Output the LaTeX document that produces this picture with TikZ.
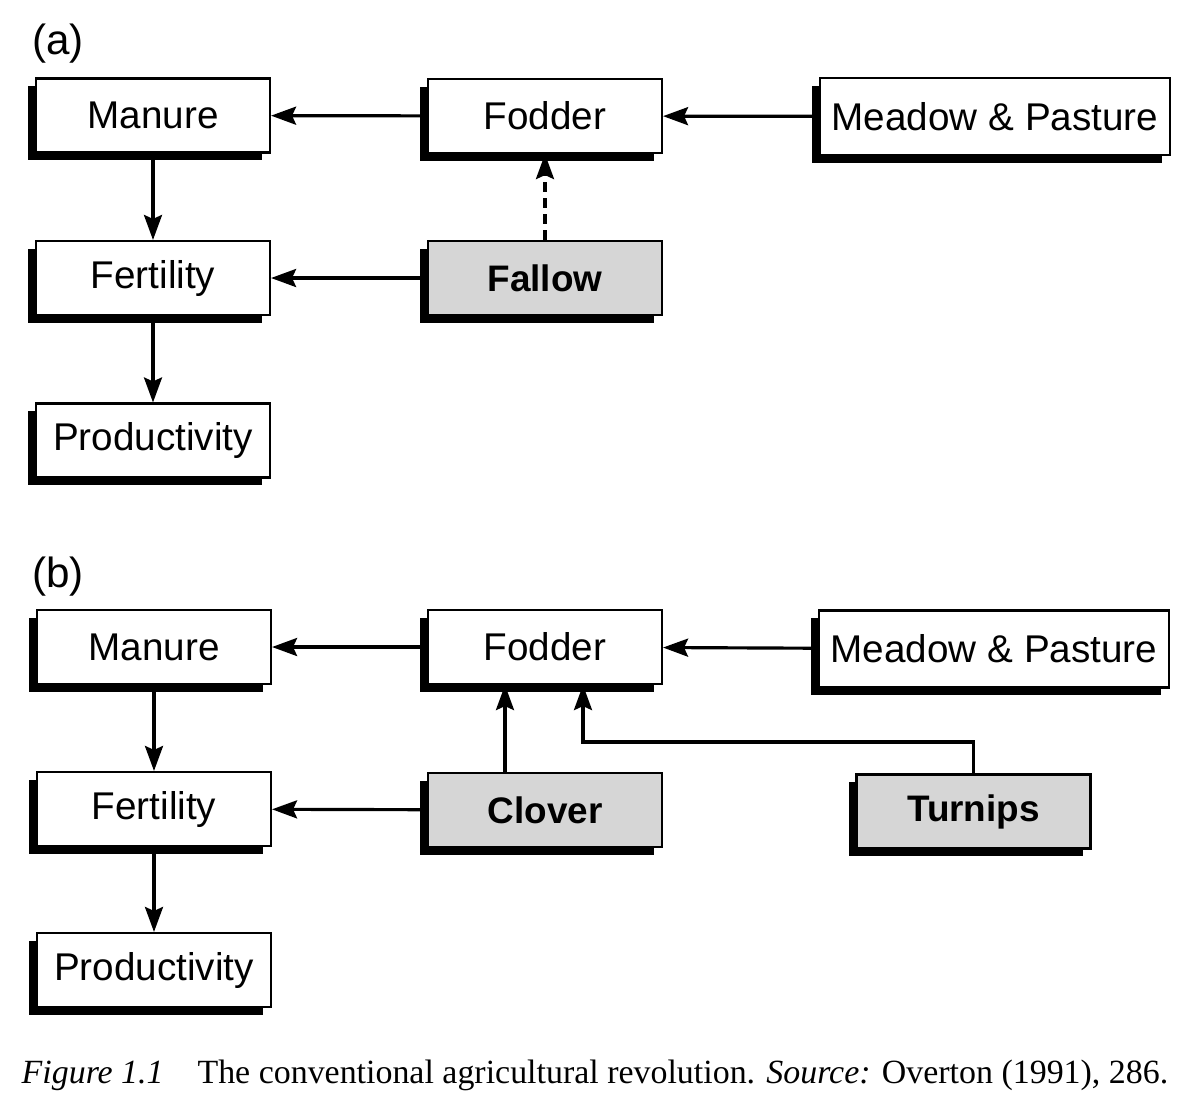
\documentclass[tikz,border=0pt]{standalone}
\usepackage{fontspec}
\setmainfont{Liberation Serif}
\newfontfamily\boxfont{Liberation Sans}
\usepackage{tikz}
\usetikzlibrary{shadows,arrows.meta}

\begin{document}
\begin{tikzpicture}[
  box/.style = {draw, line width=0.6pt, fill=white, minimum width=2.34cm, minimum height=0.74cm,
    inner sep=0pt, font=\boxfont\fontsize{11}{13}\selectfont,
    drop shadow={shadow xshift=-0.08cm, shadow yshift=-0.075cm, fill=black, opacity=1}},
  wide/.style = {box, minimum width=3.5cm, minimum height=0.77cm},
  crop/.style = {box, fill=black!16, font=\boxfont\bfseries\fontsize{10.5}{13}\selectfont},
  arr/.style = {line width=0.9pt, -{Stealth[length=0.25cm, width=0.18cm, inset=0.04cm]}},
  tag/.style = {font=\boxfont\fontsize{12}{14}\selectfont}
]
\useasboundingbox (0,0) rectangle (12,-11.1);

\node[tag] (la) at (0.58,-0.44) {(a)};
\node[box] (manA) at (1.53,-1.155) {Manure};
\node[box] (fodA) at (5.45,-1.16) {Fodder};
\node[wide] (meaA) at (9.95,-1.165) {Meadow \& Pasture};
\node[box] (ferA) at (1.53,-2.78) {Fertility};
\node[crop] (falA) at (5.45,-2.78) {Fallow};
\node[box] (proA) at (1.53,-4.405) {Productivity};

\draw[arr] (fodA) -- (manA);
\draw[arr] (meaA) -- (fodA);
\draw[arr] (manA) -- (ferA);
\draw[arr] (falA) -- (ferA);
\draw[arr] (ferA) -- (proA);
\draw[arr, dash pattern=on 0.1cm off 0.06cm] (falA) -- (fodA);

\node[tag] (lb) at (0.58,-5.77) {(b)};
\node[box] (manB) at (1.54,-6.47) {Manure};
\node[box] (fodB) at (5.45,-6.47) {Fodder};
\node[wide] (meaB) at (9.94,-6.49) {Meadow \& Pasture};
\node[box] (ferB) at (1.54,-8.09) {Fertility};
\node[crop] (cloB) at (5.45,-8.1) {Clover};
\node[crop] (turB) at (9.735,-8.115) {Turnips};
\node[box] (proB) at (1.54,-9.70) {Productivity};
\coordinate (tk) at (5.83,-7.42);

\draw[arr] (fodB) -- (manB);
\draw[arr] (meaB) -- (fodB);
\draw[arr] (manB) -- (ferB);
\draw[arr] (cloB) -- (ferB);
\draw[arr] (ferB) -- (proB);
\draw[arr] ([xshift=-0.4cm]cloB.north) -- ([xshift=-0.4cm]fodB.south);
\draw[arr] (turB.north) |- (tk) -- (tk |- fodB.south);

\node[font=\fontsize{9.65}{12}\selectfont] (cap) at (5.95,-10.75)
  {\textit{Figure 1.1}\quad The conventional agricultural revolution. \textit{Source:} Overton (1991), 286.};
\end{tikzpicture}
\end{document}
